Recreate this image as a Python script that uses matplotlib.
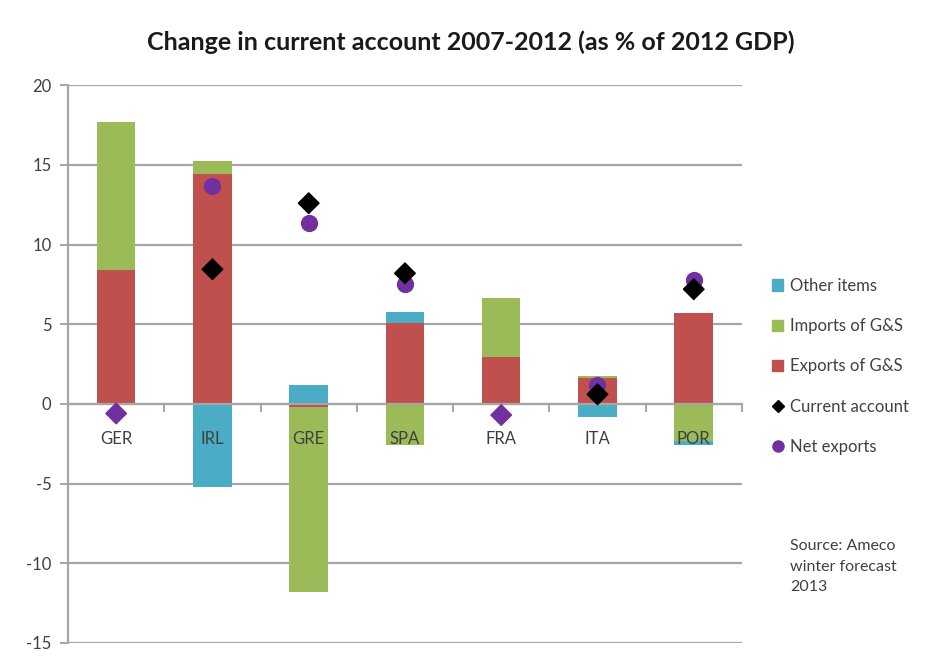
import numpy as np
import matplotlib
matplotlib.use('Agg')
import matplotlib.pyplot as plt
from matplotlib.lines import Line2D
from matplotlib.patches import Patch

plt.rcParams['font.family'] = ['Lato', 'DejaVu Sans']
plt.rcParams['axes.unicode_minus'] = False

countries = ['GER', 'IRL', 'GRE', 'SPA', 'FRA', 'ITA', 'POR']
other_items = [0.0, -5.2, 1.2, 0.7, 0.0, -0.8, -0.3]
imports_gs = [9.3, 0.8, -11.6, -2.6, 3.7, 0.1, -2.3]
exports_gs = [8.4, 14.45, -0.2, 5.1, 2.95, 1.65, 5.7]
current_account = [-0.6, 8.45, 12.6, 8.2, -0.7, 0.6, 7.2]
net_exports = [np.nan, 13.7, 11.35, 7.5, np.nan, 1.2, 7.8]
# GER and FRA diamonds were coloured like the net exports series
ca_colors = ['#7030a0', 'black', 'black', 'black', '#7030a0', 'black', 'black']

c_other = '#4bacc6'
c_imp = '#9bbb59'
c_exp = '#c0504d'
c_net = '#7030a0'
grey = '#404040'

fig = plt.figure(figsize=(9.32, 6.56), dpi=100)
ax = fig.add_axes([0.073, 0.020, 0.723, 0.850])

x = np.arange(len(countries))
w = 0.40

# stack positives upward and negatives downward, exports first
pos = np.zeros(len(x))
neg = np.zeros(len(x))
for vals, col in [(exports_gs, c_exp), (imports_gs, c_imp), (other_items, c_other)]:
    v = np.array(vals)
    base = np.where(v >= 0, pos, neg)
    ax.bar(x, v, w, bottom=base, color=col, zorder=2)
    pos = pos + np.where(v >= 0, v, 0)
    neg = neg + np.where(v < 0, v, 0)

ax.scatter(x, current_account, marker='D', s=110, c=ca_colors, zorder=4)
ax.scatter(x, net_exports, marker='o', s=130, color=c_net, zorder=3)

ax.set_xlim(-0.5, len(x) - 0.5)
ax.set_ylim(-15, 20)
ax.set_yticks(np.arange(-15, 21, 5))
ax.yaxis.grid(True, color='#a6a6a6', lw=1.6, zorder=0)
ax.set_axisbelow(True)

for s in ['top', 'right']:
    ax.spines[s].set_visible(False)
ax.spines['left'].set_color('#a6a6a6')
ax.spines['left'].set_linewidth(1.6)
ax.spines['bottom'].set_position(('data', 0))
ax.spines['bottom'].set_color('#a6a6a6')
ax.spines['bottom'].set_linewidth(1.6)

ax.tick_params(axis='y', colors='#a6a6a6', length=6, width=1.4, labelcolor=grey,
               labelsize=12, pad=6)
ax.set_xticks(x)
ax.set_xticklabels([])
ax.tick_params(axis='x', which='major', length=0)
ax.set_xticks(np.arange(0.5, len(x) - 0.5 + 1, 1), minor=True)
ax.tick_params(axis='x', which='minor', length=6, width=1.4, color='#a6a6a6')

# category names sit on top of the bars, just under the zero line
for xi, name in zip(x, countries):
    ax.annotate(name, (xi, 0), xytext=(0, -25), textcoords='offset points',
                ha='center', va='center', fontsize=12, color=grey, zorder=6)

fig.text(0.505, 0.935, 'Change in current account 2007-2012 (as % of 2012 GDP)',
         ha='center', va='center', fontsize=18, fontweight='bold', color='#1a1a1a')

handles = [
    Patch(color=c_other, label='Other items'),
    Patch(color=c_imp, label='Imports of G&S'),
    Patch(color=c_exp, label='Exports of G&S'),
    Line2D([], [], marker='D', color='black', lw=0, markersize=6, label='Current account'),
    Line2D([], [], marker='o', color=c_net, lw=0, markersize=8, label='Net exports'),
]
fig.legend(handles=handles, loc='upper left', bbox_to_anchor=(0.812, 0.599),
           frameon=False, fontsize=12, labelspacing=1.45, handlelength=0.7,
           handleheight=0.7, handletextpad=0.4, labelcolor=grey)

fig.text(0.848, 0.178, 'Source: Ameco\nwinter forecast\n2013', ha='left', va='top',
         fontsize=11.5, color=grey, linespacing=1.6)

fig.savefig('out.png', dpi=100)
